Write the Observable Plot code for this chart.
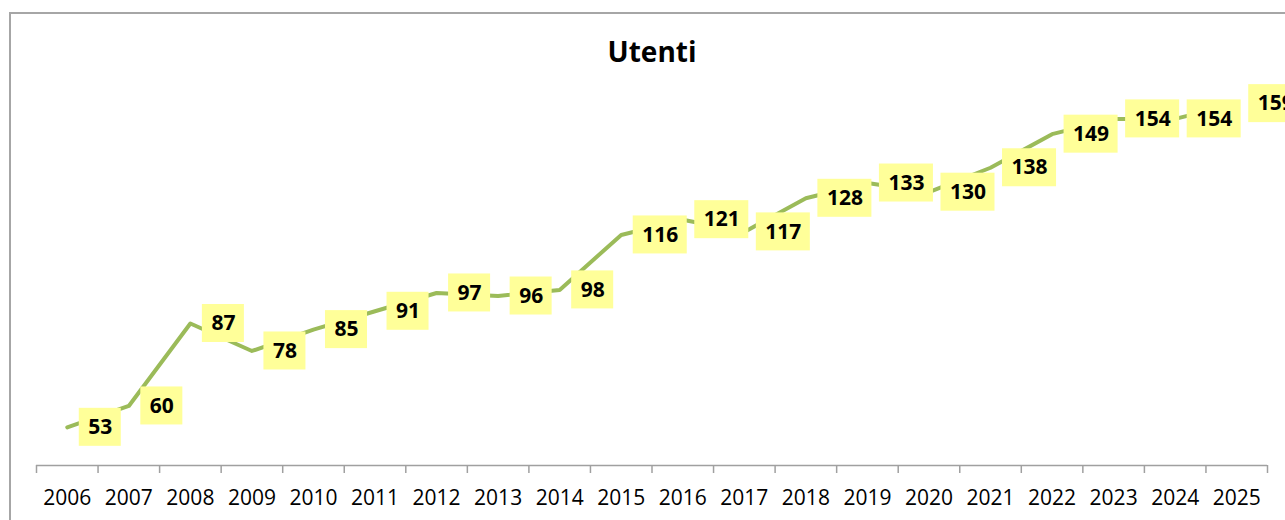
<!DOCTYPE html>
<html>
<head>
<meta charset="utf-8">
<script src="https://cdn.jsdelivr.net/npm/d3@7"></script>
<script src="https://cdn.jsdelivr.net/npm/@observablehq/plot@0.6"></script>
<style>
  html, body { margin: 0; padding: 0; background: #fff; }
  #wrap { position: relative; width: 1285px; height: 520px; overflow: hidden; background: #fff; }
  #frame { position: absolute; left: 9px; top: 12px; width: 1400px; height: 700px; border: 2px solid #a6a6a6; box-sizing: border-box; }
  #chart { position: absolute; left: 0; top: 0; }
</style>
</head>
<body>
<div id="wrap"><div id="frame"></div><div id="chart"></div></div>
<script>
const title = "Utenti";
const years = [2006, 2007, 2008, 2009, 2010, 2011, 2012, 2013, 2014, 2015, 2016, 2017, 2018, 2019, 2020, 2021, 2022, 2023, 2024, 2025];
const values = [53, 60, 87, 78, 85, 91, 97, 96, 98, 116, 121, 117, 128, 133, 130, 138, 149, 154, 154, 159];
const tickLabels = years.map(String);
const tickBoundaries = [...years.map(y => y - 0.5), years[years.length - 1] + 0.5];
const yDomain = [40.5, 180];

const data = years.map((year, i) => ({year, value: values[i], label: String(values[i])}));

const FONT = "'Open Sans', 'DejaVu Sans', sans-serif";
const LABEL_SIZE = 21;
const measureCtx = document.createElement("canvas").getContext("2d");
measureCtx.font = `bold ${LABEL_SIZE}px 'Open Sans'`;

const labelBoxes = Plot.dot(data, {
  x: "year",
  y: "value",
  render(index, scales, vals) {
    const g = d3.create("svg:g");
    for (const i of index) {
      const w = measureCtx.measureText(data[i].label).width + 18;
      g.append("rect")
        .attr("x", vals.x[i] + 12)
        .attr("y", vals.y[i] - 19)
        .attr("width", w)
        .attr("height", 38)
        .attr("fill", "#FFFF99");
    }
    return g.node();
  }
});

const chart = Plot.plot({
  width: 1285,
  height: 520,
  marginLeft: 36,
  marginRight: 18,
  marginTop: 39,
  marginBottom: 55,
  style: {fontFamily: FONT, color: "#000", background: "transparent", overflow: "visible"},
  x: {type: "linear", domain: [tickBoundaries[0], tickBoundaries[tickBoundaries.length - 1]], label: null},
  y: {domain: yDomain, axis: null, label: null},
  marks: [
    Plot.ruleY([yDomain[0]], {stroke: "#a0a0a0", strokeWidth: 1.5}),
    Plot.axisX({ticks: tickBoundaries, tickSize: 8, tickFormat: () => "", label: null, stroke: "#a0a0a0", strokeWidth: 1.5}),
    Plot.axisX({ticks: years, tickSize: 0, tickPadding: 25, tickFormat: (d) => tickLabels[years.indexOf(d)], label: null, fontSize: 21, fill: "#000"}),
    Plot.line(data, {x: "year", y: "value", stroke: "#9BBB59", strokeWidth: 4, strokeLinejoin: "round", strokeLinecap: "round"}),
    labelBoxes,
    Plot.text(data, {x: "year", y: "value", text: "label", dx: 21, textAnchor: "start", fontSize: LABEL_SIZE, fontWeight: "bold", fill: "#000"}),
    Plot.text([title], {frameAnchor: "top", lineAnchor: "middle", dy: 14, fontSize: 28, fontWeight: "bold", fill: "#000"})
  ]
});

document.getElementById("chart").appendChild(chart);
</script>
</body>
</html>
